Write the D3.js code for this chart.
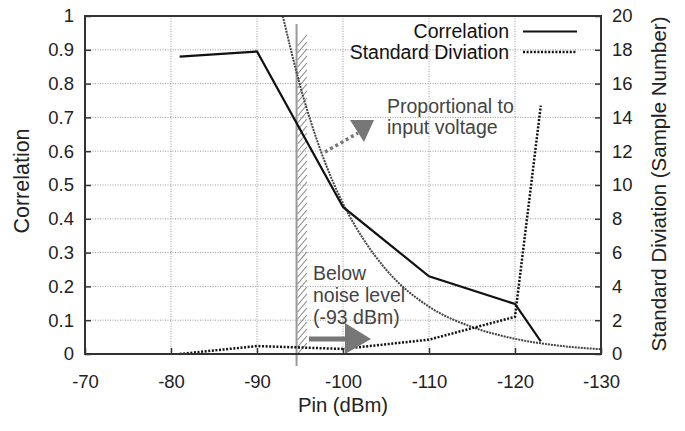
<!DOCTYPE html>
<html><head><meta charset="utf-8">
<script src="https://cdn.jsdelivr.net/npm/d3@7"></script>
<style>
body{margin:0;background:#fff;}
text{font-family:"Liberation Sans",Arial,sans-serif;}
</style></head>
<body><svg id="c" width="685" height="431"></svg>
<script>
// ---- data ----
const pin = [-81, -90, -100, -110, -120, -123];
const correlation = [0.88, 0.895, 0.435, 0.23, 0.148, 0.037];
const stdDeviation = [0.0, 0.47, 0.3, 0.85, 2.2, 14.7];
const voltagePin = [-93, -95, -97.5, -100, -102.5, -105, -110, -115, -120, -125, -130];
const voltageValue = [20, 15.9, 11.9, 8.9, 6.7, 5.0, 2.8, 1.6, 0.9, 0.5, 0.28];
const xTicks = [-70, -80, -90, -100, -110, -120, -130];
const yLeftTicks = [0, 0.1, 0.2, 0.3, 0.4, 0.5, 0.6, 0.7, 0.8, 0.9, 1];
const yRightTicks = [0, 2, 4, 6, 8, 10, 12, 14, 16, 18, 20];
const noiseLevel = [-94.6, -95.8];
const seriesNames = ["Correlation", "Standard Diviation"];

const svg = d3.select("#c");
const L = 85, R = 601, T = 16, B = 354;
const x = d3.scaleLinear().domain([-70, -130]).range([L, R]);
const yL = d3.scaleLinear().domain([0, 1]).range([B, T]);
const yR = d3.scaleLinear().domain([0, 20]).range([B, T]);

// grid
const grid = svg.append("g").attr("stroke", "#999").attr("stroke-width", 1).attr("stroke-dasharray", "1,1.5");
xTicks.slice(1, -1).forEach(v => grid.append("line").attr("x1", x(v)).attr("x2", x(v)).attr("y1", T).attr("y2", B));
yLeftTicks.slice(1, -1).forEach(v => grid.append("line").attr("x1", L).attr("x2", R).attr("y1", yL(v)).attr("y2", yL(v)));

// clip
svg.append("clipPath").attr("id", "clip").append("rect").attr("x", L).attr("y", T).attr("width", R - L).attr("height", B - T);

// hatched noise region
const hx0 = x(noiseLevel[0]), hx1 = x(noiseLevel[1]);
const hatch = svg.append("g").attr("stroke", "#888").attr("stroke-width", 1.1);
hatch.append("line").attr("x1", hx0).attr("x2", hx0).attr("y1", 24).attr("y2", 366).attr("stroke-width", 2).attr("stroke", "#999");
for (let yy = B; yy > 40; yy -= 7) {
  hatch.append("line").attr("x1", hx0 + 1).attr("y1", yy).attr("x2", hx1).attr("y2", yy - 11);
}

// voltage curve
svg.append("path").datum(voltagePin.map((p, i) => [p, voltageValue[i]]))
  .attr("clip-path", "url(#clip)")
  .attr("d", d3.line().x(d => x(d[0])).y(d => yR(d[1])).curve(d3.curveMonotoneX))
  .attr("fill", "none").attr("stroke", "#444").attr("stroke-width", 2).attr("stroke-dasharray", "2,1");

// correlation line
svg.append("path").datum(pin.map((p, i) => [p, correlation[i]]))
  .attr("d", d3.line().x(d => x(d[0])).y(d => yL(d[1])))
  .attr("fill", "none").attr("stroke", "#111").attr("stroke-width", 2.2);

// std deviation line
svg.append("path").datum(pin.map((p, i) => [p, stdDeviation[i]]))
  .attr("d", d3.line().x(d => x(d[0])).y(d => yR(d[1])))
  .attr("fill", "none").attr("stroke", "#111").attr("stroke-width", 2.5).attr("stroke-dasharray", "2,1.6");

// annotations: dotted arrow
svg.append("line").attr("x1", 325).attr("y1", 152).attr("x2", 358).attr("y2", 133)
  .attr("stroke", "#777").attr("stroke-width", 3.5).attr("stroke-dasharray", "3,3");
svg.append("path").attr("d", "M350,120 L374,120 L364,142 Z").attr("fill", "#777");
// thick arrow
svg.append("path").attr("d", "M309,336.5 L345,336.5 L345,323 L371,339 L345,354 L345,341.5 L309,341.5 Z").attr("fill", "#777");

const ann = svg.append("g").attr("fill", "#444").attr("font-size", 19.5);
ann.append("text").attr("x", 387).attr("y", 113).text("Proportional to");
ann.append("text").attr("x", 387).attr("y", 134).text("input voltage");
ann.append("text").attr("x", 313).attr("y", 280).text("Below");
ann.append("text").attr("x", 313).attr("y", 302).text("noise level");
ann.append("text").attr("x", 313).attr("y", 324).text("(-93 dBm)");

// axes
const fmt = d => String(d);
const styleAxis = g => { g.select(".domain").remove(); g.selectAll("line").attr("stroke", "#333").attr("stroke-width", 1.5); g.selectAll("text").attr("font-size", 18.5).attr("fill", "#222").attr("font-family", "Liberation Sans, Arial, sans-serif"); };
svg.append("g").attr("transform", `translate(0,${B})`)
  .call(d3.axisBottom(x).tickValues(xTicks).tickFormat(fmt).tickSize(-6).tickPadding(21)).call(styleAxis);
svg.append("g").attr("transform", `translate(${L},0)`)
  .call(d3.axisLeft(yL).tickValues(yLeftTicks).tickFormat(fmt).tickSize(-6).tickPadding(11)).call(styleAxis);
svg.append("g").attr("transform", `translate(${R},0)`)
  .call(d3.axisRight(yR).tickValues(yRightTicks).tickFormat(fmt).tickSize(-6).tickPadding(11)).call(styleAxis);

// frame
svg.append("rect").attr("x", L).attr("y", T).attr("width", R - L).attr("height", B - T)
  .attr("fill", "none").attr("stroke", "#333").attr("stroke-width", 2);

// axis titles
svg.append("text").attr("x", 343).attr("y", 412).attr("text-anchor", "middle").attr("font-size", 20.3).attr("fill", "#222").text("Pin (dBm)");
svg.append("text").attr("transform", "translate(29,181) rotate(-90)").attr("text-anchor", "middle").attr("font-size", 21.5).attr("fill", "#222").text("Correlation");
svg.append("text").attr("transform", "translate(666,184) rotate(-90)").attr("text-anchor", "middle").attr("font-size", 20.5).attr("fill", "#222").text("Standard Diviation (Sample Number)");

// legend
const lg = svg.append("g").attr("font-size", 19.5).attr("fill", "#111");
lg.append("text").attr("x", 509).attr("y", 38).attr("text-anchor", "end").text(seriesNames[0]);
lg.append("text").attr("x", 509).attr("y", 59).attr("text-anchor", "end").text(seriesNames[1]);
lg.append("line").attr("x1", 523).attr("x2", 577).attr("y1", 31.5).attr("y2", 31.5).attr("stroke", "#111").attr("stroke-width", 2.2);
lg.append("line").attr("x1", 523).attr("x2", 577).attr("y1", 52).attr("y2", 52).attr("stroke", "#111").attr("stroke-width", 2.5).attr("stroke-dasharray", "2,1.6");
</script></body></html>
